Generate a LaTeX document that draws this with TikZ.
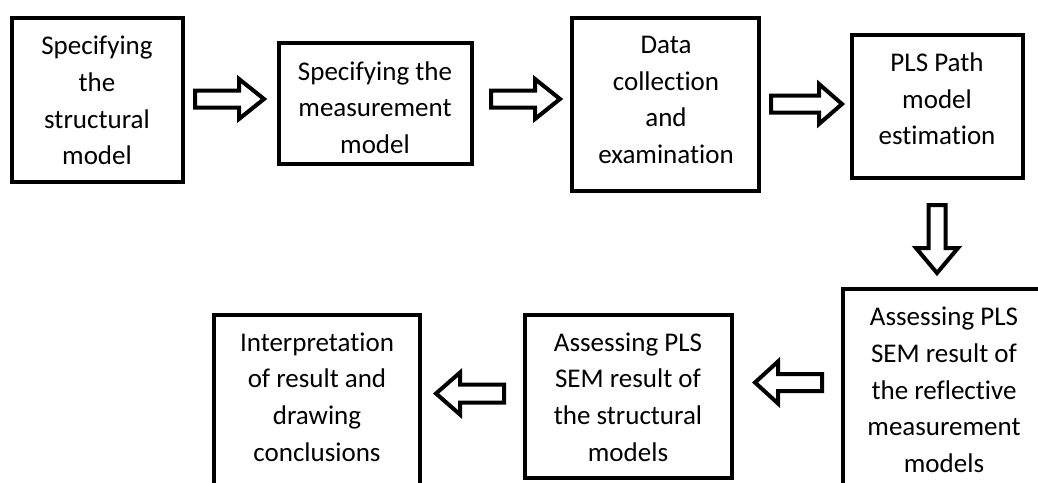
\documentclass[tikz,border=0pt]{standalone}
\usepackage{fontspec}
\setmainfont[Ligatures={NoCommon}]{Carlito}
\usetikzlibrary{calc}
\tikzset{
  boxst/.style={draw=black, line width=4pt, inner sep=0pt},
  txt/.style={align=center, inner sep=0pt, font=\fontsize{27}{36.7}\selectfont},
  blk/.style={draw=black, fill=white, line width=4pt, line join=miter},
}
% #1 tail coordinate, #2 tip coordinate, #3 shaft half width, #4 head half width, #5 head length
\newcommand\myblockarrow[5]{%
  \path coordinate (hb) at ($(#2)!#5pt!(#1)$);
  \draw[blk] ($(#1)!#3pt!90:(#2)$) -- ($(hb)!#3pt!-90:(#1)$) -- ($(hb)!#4pt!-90:(#1)$)
     -- (#2) -- ($(hb)!#4pt!90:(#1)$) -- ($(hb)!#3pt!90:(#1)$) -- ($(#1)!#3pt!-90:(#2)$) -- cycle;
}
\begin{document}
\begin{tikzpicture}[x=1pt,y=-1pt]
\useasboundingbox (0,0) rectangle (1038,482);
\fill[white] (0,0) rectangle (1038,482);

% boxes
\node[boxst, minimum width=171pt, minimum height=164pt] (b1) at (97.5,100) {};
\node[boxst, minimum width=193pt, minimum height=121pt] (b2) at (375.5,103.5) {};
\node[boxst, minimum width=187pt, minimum height=173pt] (b3) at (665.5,104.5) {};
\node[boxst, minimum width=171pt, minimum height=143pt] (b4) at (937.5,106.5) {};
\node[boxst, minimum width=205pt, minimum height=206pt] (b5) at (945.5,392) {};
\node[boxst, minimum width=207pt, minimum height=163pt] (b6) at (628.5,396.5) {};
\node[boxst, minimum width=206pt, minimum height=180pt] (b7) at (317,405) {};

% texts
\node[txt] (t1) at (97,100.5) {Specifying\\the\\structural\\model};
\node[txt] (t2) at (375,107.5) {Specifying the\\measurement\\model};
\node[txt] (t3) at (666,100) {Data\\collection\\and\\examination};
\node[txt] (t4) at (937,99) {PLS Path\\model\\estimation};
\node[txt] (t5) at (944,390) {Assessing PLS\\SEM result of\\the reflective\\measurement\\models};
\node[txt] (t6) at (628,397) {Assessing PLS\\SEM result of\\the structural\\models};
\node[txt] (t7) at (317,397) {Interpretation\\of result and\\drawing\\conclusions};

% arrow end points
\coordinate (a1s) at (195,99);   \coordinate (a1e) at (264,99);
\coordinate (a2s) at (491,99);   \coordinate (a2e) at (560,99);
\coordinate (a3s) at (771,104);  \coordinate (a3e) at (842,104);
\coordinate (a4s) at (937,205);  \coordinate (a4e) at (937,273);
\coordinate (a5s) at (822,382.5); \coordinate (a5e) at (755,382.5);
\coordinate (a6s) at (504,393.5); \coordinate (a6e) at (436,393.5);

\myblockarrow{a1s}{a1e}{8.5}{20}{25}
\myblockarrow{a2s}{a2e}{8.5}{20}{25}
\myblockarrow{a3s}{a3e}{8.5}{20}{23}
\myblockarrow{a4s}{a4e}{8.5}{21}{25}
\myblockarrow{a5s}{a5e}{8.5}{21}{23}
\myblockarrow{a6s}{a6e}{9}{21}{24}
\end{tikzpicture}
\end{document}
